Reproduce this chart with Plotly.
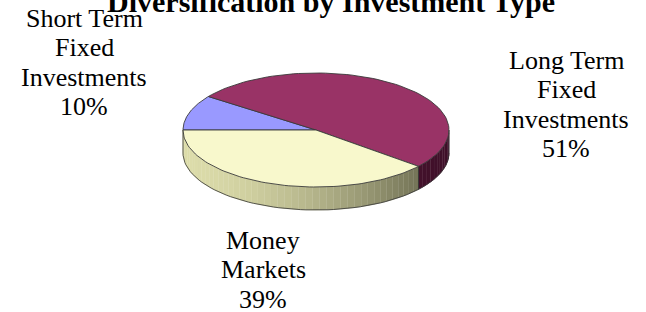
import numpy as np
import plotly.graph_objects as go

# ---- data ----
categories = ["Short Term Fixed Investments", "Long Term Fixed Investments", "Money Markets"]
label_lines = [["Short Term", "Fixed", "Investments"], ["Long Term", "Fixed", "Investments"], ["Money", "Markets"]]
values = [10, 51, 39]
top_colors = ["#9999FF", "#993366", "#F8F8CC"]
side_light = ["#7070c0", "#5a1d3c", "#dcdcaa"]
side_dark = ["#505090", "#3e0f28", "#5e5e46"]
title = "Diversification by Investment Type"

W, H = 646, 312
cx, cy, rx, ry, depth = 316, 130, 133, 57, 23
start_deg = 180.0


def pt(theta, dy=0.0):
    t = np.radians(theta)
    return cx + rx * np.cos(t), cy - ry * np.sin(t) + dy


def mix(c1, c2, f):
    a = [int(c1[i:i + 2], 16) for i in (1, 3, 5)]
    b = [int(c2[i:i + 2], 16) for i in (1, 3, 5)]
    return "rgb(%d,%d,%d)" % tuple(round(a[k] + (b[k] - a[k]) * f) for k in range(3))


total = float(sum(values))
bounds = []
a = start_deg
for v in values:
    b = a - 360.0 * v / total
    bounds.append((a, b))
    a = b

fig = go.Figure()

# side walls (front half, angles in [-180, 0])
for i, (a0, a1) in enumerate(bounds):
    for shift in (0, -360, 360):
        h, l = a0 + shift, a1 + shift
        s_hi, s_lo = min(h, 0.0), max(l, -180.0)
        if s_hi <= s_lo:
            continue
        n = max(2, int((s_hi - s_lo) / 3))
        edges = np.linspace(s_hi, s_lo, n + 1)
        for k in range(n):
            e0, e1 = edges[k], edges[k + 1]
            th = np.linspace(e0, e1, 6)
            xs_t, ys_t = zip(*[pt(t) for t in th])
            xs_b, ys_b = zip(*[pt(t, depth) for t in th[::-1]])
            xm = np.mean(xs_t)
            f = (xm - (cx - rx)) / (2 * rx)
            col = mix(side_light[i], side_dark[i], f ** 1.6)
            fig.add_trace(go.Scatter(x=list(xs_t) + list(xs_b), y=list(ys_t) + list(ys_b),
                                     fill="toself", fillcolor=col, mode="lines",
                                     line=dict(width=0.6, color=col), hoverinfo="skip",
                                     showlegend=False))
        th = np.linspace(s_hi, s_lo, 60)
        xb, yb = zip(*[pt(t, depth) for t in th])
        fig.add_trace(go.Scatter(x=xb, y=yb, mode="lines", line=dict(width=0.8, color="#333333"),
                                 hoverinfo="skip", showlegend=False))
        for t in (s_hi, s_lo):
            x0, y0 = pt(t)
            x1, y1 = pt(t, depth)
            fig.add_trace(go.Scatter(x=[x0, x1], y=[y0, y1], mode="lines",
                                     line=dict(width=0.8, color="#333333"),
                                     hoverinfo="skip", showlegend=False))

# top faces
for i, (a0, a1) in enumerate(bounds):
    th = np.linspace(a0, a1, 80)
    xs, ys = zip(*[pt(t) for t in th])
    fig.add_trace(go.Scatter(x=[cx] + list(xs) + [cx], y=[cy] + list(ys) + [cy],
                             fill="toself", fillcolor=top_colors[i], mode="lines",
                             line=dict(width=0.9, color="#3a3a3a"), name=categories[i],
                             hoverinfo="name", showlegend=False))

font = "Liberation Serif, Times New Roman, serif"
ann_pos = [(84, 18), (566, 60), (263, 240)]
line_step = 29.5
annotations = []
for i in range(len(values)):
    lines = label_lines[i] + ["%d%%" % values[i]]
    for j, txt in enumerate(lines):
        annotations.append(dict(x=ann_pos[i][0], y=ann_pos[i][1] + j * line_step, xref="x", yref="y",
                                text=txt, showarrow=False, yanchor="middle",
                                font=dict(family=font, size=26, color="black"), align="center"))
annotations.append(dict(x=331, y=1, xref="x", yref="y", text="<b>%s</b>" % title, showarrow=False,
                        yanchor="middle", font=dict(family=font, size=30, color="black")))

fig.update_layout(width=W, height=H, margin=dict(l=0, r=0, t=0, b=0),
                  paper_bgcolor="white", plot_bgcolor="white",
                  xaxis=dict(range=[0, W], visible=False, fixedrange=True),
                  yaxis=dict(range=[H, 0], visible=False, fixedrange=True),
                  annotations=annotations, showlegend=False)
fig.write_html("out.html", config={"displayModeBar": False},
               post_script="document.body.style.margin='0';")
